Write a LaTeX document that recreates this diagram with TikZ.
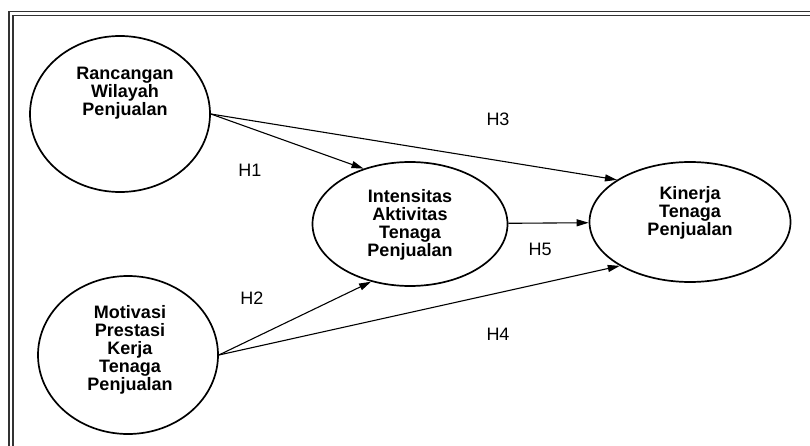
\documentclass[tikz,border=0pt]{standalone}
\usepackage{fontspec}
\setmainfont{Liberation Sans}
\usetikzlibrary{shapes.geometric,arrows.meta}

\tikzset{
  konstruk/.style={ellipse,draw,line width=1.7pt,inner sep=0pt},
  judul/.style={font=\fontsize{18}{18}\selectfont\bfseries,align=center,inner sep=0pt},
  hipotesis/.style={font=\fontsize{18}{18}\selectfont,inner sep=0pt},
  panah/.style={-{Triangle[length=12pt,width=7pt]},line width=1.1pt},
  bingkai/.style={line width=1.1pt,black!80}
}

\begin{document}
\begin{tikzpicture}[x=1pt,y=-1pt]
\useasboundingbox (0,0) rectangle (810,446);
\coordinate (O1) at (9,446);
\coordinate (O2) at (9,11.5);
\coordinate (O3) at (810,11.5);
\coordinate (I1) at (13,446);
\coordinate (I2) at (13,15.5);
\coordinate (I3) at (810,15.5);
\draw[bingkai] (O1) -- (O2) -- (O3);
\draw[bingkai] (I1) -- (I2) -- (I3);
\node[konstruk,minimum width=180pt,minimum height=156pt] (rwp) at (120,114) {};
\node[konstruk,minimum width=180pt,minimum height=158pt] (mpk) at (128,355) {};
\node[konstruk,minimum width=195pt,minimum height=124pt] (ias) at (410,224) {};
\node[konstruk,minimum width=201pt,minimum height=120pt] (ktp) at (690,222) {};
\node[judul] (rwp-t) at (125,93) {Rancangan\\Wilayah\\Penjualan};
\node[judul] (mpk-t) at (130,350) {Motivasi\\Prestasi\\Kerja\\Tenaga\\Penjualan};
\node[judul] (ias-t) at (410,225) {Intensitas\\Aktivitas\\Tenaga\\Penjualan};
\node[judul] (ktp-t) at (690,213) {Kinerja\\Tenaga\\Penjualan};
\draw[panah] (rwp.east) -- (ias.130);
\draw[panah] (rwp.east) -- (ktp.150);
\draw[panah] (mpk.east) -- (ias.236);
\draw[panah] (mpk.east) -- (ktp.212);
\draw[panah] (ias) -- (ktp);
\node[hipotesis] (h1) at (250,170) {H1};
\node[hipotesis] (h2) at (252,298) {H2};
\node[hipotesis] (h3) at (498,119) {H3};
\node[hipotesis] (h4) at (498,334) {H4};
\node[hipotesis] (h5) at (540,249) {H5};
%\draw[panah] (rwp) -- (mpk);
\end{tikzpicture}
\end{document}
